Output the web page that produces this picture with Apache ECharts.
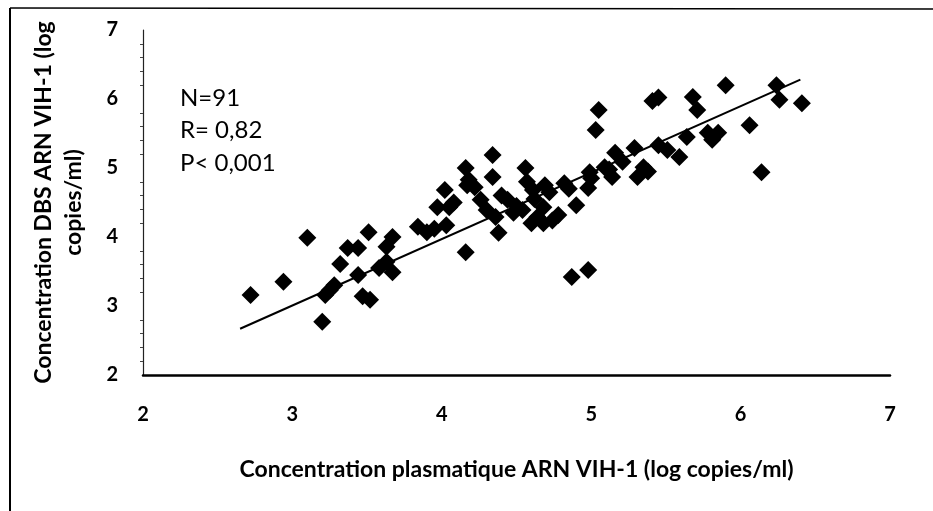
<!DOCTYPE html>
<html>
<head>
<meta charset="utf-8">
<script src="https://cdn.jsdelivr.net/npm/echarts@6/dist/echarts.min.js"></script>
<style>
  html, body { margin: 0; padding: 0; background: #fff; }
  #main { width: 933px; height: 511px; }
</style>
</head>
<body>
<div id="main"></div>
<script>
// valeurs (log copies/ml)
var plasmaX = [
  2.72, 2.94, 3.10, 3.20, 3.22, 3.25, 3.32, 3.37, 3.44, 3.44,
  3.47, 3.52, 3.51, 3.63, 3.67, 3.63, 3.67, 3.84, 3.90, 3.97,
  4.02, 4.05, 4.03, 4.16, 4.18, 4.17, 4.16, 4.26, 4.30, 4.34,
  4.34, 4.36, 4.38, 4.44, 4.56, 4.57, 4.61, 4.54, 4.64, 4.68,
  4.69, 4.68, 4.78, 4.82, 4.90, 4.98, 4.99, 4.87, 4.98, 5.03,
  5.05, 5.09, 5.14, 5.16, 5.21, 5.29, 5.31, 5.35, 5.41, 5.45,
  5.51, 5.59, 5.64, 5.68, 5.71, 5.78, 5.85, 5.81, 5.90, 6.06,
  6.24, 6.26, 6.41, 6.14, 4.50, 4.62, 4.72, 4.40, 4.48, 4.60,
  4.74, 4.22, 4.08, 3.95, 5.38, 5.12, 5.45, 5.00, 3.58, 4.85,
  3.28
];
var dbsY = [
  3.16, 3.35, 3.99, 2.77, 3.16, 3.23, 3.61, 3.84, 3.84, 3.45,
  3.14, 3.09, 4.07, 3.86, 4.00, 3.64, 3.49, 4.15, 4.07, 4.43,
  4.68, 4.43, 4.17, 5.00, 4.83, 4.75, 3.78, 4.54, 4.39, 5.19,
  4.87, 4.29, 4.06, 4.54, 5.00, 4.80, 4.68, 4.39, 4.29, 4.43,
  4.75, 4.20, 4.32, 4.78, 4.46, 4.71, 4.94, 3.42, 3.52, 5.55,
  5.84, 5.01, 4.87, 5.22, 5.09, 5.29, 4.87, 5.01, 5.97, 6.02,
  5.26, 5.16, 5.45, 6.03, 5.84, 5.51, 5.51, 5.41, 6.20, 5.62,
  6.20, 5.99, 5.94, 4.94, 4.45, 4.55, 4.65, 4.60, 4.35, 4.20,
  4.24, 4.72, 4.50, 4.12, 4.95, 4.98, 5.33, 4.85, 3.55, 4.70,
  3.30
];
// droite de régression (extrémités)
var trendX = [2.65, 6.40];
var trendY = [2.67, 6.28];
var statsLines = ["N=91", "R= 0,82", "P< 0,001"];

var points = plasmaX.map(function (x, i) { return [x, dbsY[i]]; });
var trend = trendX.map(function (x, i) { return [x, trendY[i]]; });

var font = "Lato, 'Open Sans', sans-serif";
var chart = echarts.init(document.getElementById("main"));

chart.setOption({
  animation: false,
  backgroundColor: "#fff",
  grid: { left: 143, right: 43, top: 30, bottom: 136 },
  xAxis: {
    type: "value",
    min: 2, max: 7, interval: 1,
    name: "Concentration plasmatique ARN VIH-1 (log copies/ml)",
    nameLocation: "middle",
    nameGap: 83,
    nameTextStyle: { fontFamily: font, fontWeight: "bold", fontSize: 23, color: "#000" },
    axisLine: { lineStyle: { color: "#000", width: 2.5 } },
    axisTick: { show: false },
    splitLine: { show: false },
    axisLabel: { fontFamily: font, fontWeight: "bold", fontSize: 20, color: "#000", margin: 30 }
  },
  yAxis: {
    type: "value",
    min: 2, max: 7, interval: 1,
    name: "Concentration DBS ARN VIH-1 (log\ncopies/ml)",
    nameLocation: "middle",
    nameGap: 54,
    nameTextStyle: { fontFamily: font, fontWeight: "bold", fontSize: 23, color: "#000", lineHeight: 30 },
    axisLine: { show: true, lineStyle: { color: "#222", width: 1.2 } },
    axisTick: { show: false },
    minorTick: { show: true, splitNumber: 5, length: 3, lineStyle: { color: "#444" } },
    splitLine: { show: false },
    axisLabel: { fontFamily: font, fontWeight: "bold", fontSize: 20, color: "#000", margin: 25 }
  },
  graphic: [
    { type: "line", shape: { x1: 10, y1: 8, x2: 10, y2: 511 }, style: { stroke: "#000", lineWidth: 2 } },
    { type: "line", shape: { x1: 10, y1: 8, x2: 933, y2: 9 }, style: { stroke: "#000", lineWidth: 1.5 } },
    {
      type: "text", left: 180, top: 82,
      style: { text: statsLines.join("\n"), font: "24px " + font, lineHeight: 32.5, fill: "#000" }
    }
  ],
  series: [
    {
      type: "scatter",
      data: points,
      symbol: "diamond",
      symbolSize: 18,
      itemStyle: { color: "#000", opacity: 1 },
      z: 3
    },
    {
      type: "line",
      data: trend,
      symbol: "none",
      lineStyle: { color: "#000", width: 2 },
      z: 2
    }
  ]
});
</script>
</body>
</html>
